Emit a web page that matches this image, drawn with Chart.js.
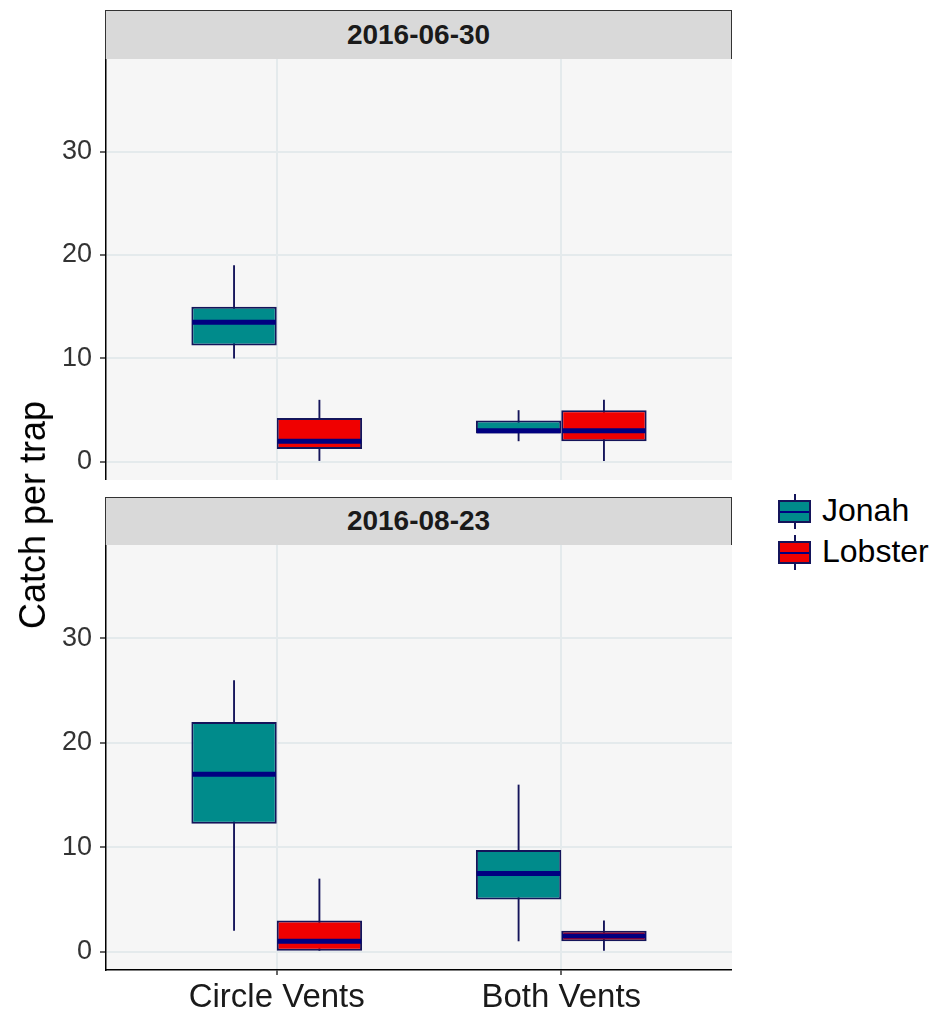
<!DOCTYPE html>
<html>
<head>
<meta charset="utf-8">
<script src="https://cdn.jsdelivr.net/npm/chart.js@4.4.1/dist/chart.umd.min.js"></script>
<style>
  body { margin: 0; background: #fff; font-family: "Liberation Sans", Arial, sans-serif; }
  #wrap { position: relative; width: 945px; height: 1015px; overflow: hidden; }
  canvas { position: absolute; }
  .strip { position: absolute; left: 105px; width: 627px; box-sizing: border-box; background: #d9d9d9;
           border: 1.5px solid #333; font-weight: bold; font-size: 28px; color: #1a1a1a; text-align: center; }
  #ytitle { position: absolute; left: 33px; top: 515px; transform: translate(-50%, -50%) rotate(-90deg);
            font-size: 36px; color: #000; white-space: nowrap; }
  .legend { position: absolute; left: 778px; font-size: 32px; color: #000; }
  .legend .item { position: relative; height: 41px; }
  .legend .key { position: absolute; left: 0; top: 6px; width: 33px; height: 23px; box-sizing: border-box; border: 2px solid #14145a; }
  .legend .key::before { content: ""; position: absolute; left: 13.5px; top: -8px; width: 2px; height: 35px; background: #14145a; z-index: -1; }
  .legend .key::after { content: ""; position: absolute; left: 0; right: 0; top: 8.5px; height: 2px; background: #000080; }
  .legend .txt { position: absolute; left: 44px; top: -2px; line-height: 36px; }
</style>
</head>
<body>
<div id="wrap">
  <div id="strip0" class="strip" style="top:10px;height:50px;line-height:47px;"></div>
  <canvas id="panel0" width="692" height="421" style="left:40px;top:59px;"></canvas>
  <div id="strip1" class="strip" style="top:497px;height:49px;line-height:46px;"></div>
  <canvas id="panel1" width="692" height="470" style="left:40px;top:545px;"></canvas>
  <div id="ytitle">Catch per trap</div>
  <div class="legend" id="legend" style="top:494px;"></div>
</div>
<script>
// facets, categories and tick labels
const facets = ['2016-06-30', '2016-08-23'];
const categories = ['Circle Vents', 'Both Vents'];
const seriesNames = ['Jonah', 'Lobster'];
const seriesFill = ['#008b8b', '#f00000'];
const yTicks = [0, 10, 20, 30];

// five-number summaries [min, q1, median, q3, max], one per category
const jonah0630 = [[10, 11.25, 13.5, 15, 19], [2, 2.75, 3, 4, 5]];
const lobster0630 = [[0, 1.25, 2, 4.25, 6], [0, 2, 3, 5, 6]];
const jonah0823 = [[2, 12.25, 17, 22, 26], [1, 5, 7.5, 9.75, 16]];
const lobster0823 = [[0, 0, 1, 3, 7], [0, 1, 1.5, 2, 3]];

const outline = '#14145a';
const medianColor = '#000080';
const gridColor = '#e4eaec';

// panel background
const panelBg = {
  id: 'panelBg',
  beforeDraw(chart) {
    const a = chart.chartArea, ctx = chart.ctx;
    ctx.save();
    ctx.fillStyle = '#f6f6f6';
    ctx.fillRect(a.left, a.top, a.right - a.left, a.bottom - a.top);
    ctx.restore();
  }
};

// median lines across each box
const medianPlugin = {
  id: 'medians',
  afterDatasetsDraw(chart) {
    const ctx = chart.ctx, y = chart.scales.y;
    chart.data.datasets.forEach((ds, di) => {
      if (!ds.medians) return;
      chart.getDatasetMeta(di).data.forEach((bar, i) => {
        const py = y.getPixelForValue(ds.medians[i]);
        ctx.save();
        ctx.strokeStyle = medianColor;
        ctx.lineWidth = 5;
        ctx.beginPath();
        ctx.moveTo(bar.x - bar.width / 2 + 1, py);
        ctx.lineTo(bar.x + bar.width / 2 - 1, py);
        ctx.stroke();
        ctx.restore();
      });
    });
  }
};

function makeDatasets(boxes) {
  const ds = [];
  boxes.forEach((b, s) => {
    ds.push({
      label: seriesNames[s],
      stack: seriesNames[s],
      order: 0,
      data: b.map((v, i) => ({ x: i + 1, y: [v[1], v[3]] })),
      medians: b.map(v => v[2]),
      backgroundColor: seriesFill[s],
      borderColor: outline,
      borderWidth: 2,
      borderSkipped: false,
      barPercentage: 1,
      categoryPercentage: 0.6
    });
  });
  boxes.forEach((b, s) => {
    ds.push({
      label: seriesNames[s] + ' whisker',
      stack: seriesNames[s],
      order: 1,
      data: b.map((v, i) => ({ x: i + 1, y: [v[0], v[4]] })),
      backgroundColor: outline,
      borderWidth: 0,
      barPercentage: 0.022,
      categoryPercentage: 0.6
    });
  });
  return ds;
}

function makePanel(id, boxes, showX) {
  return new Chart(document.getElementById(id), {
    type: 'bar',
    data: { datasets: makeDatasets(boxes) },
    plugins: [panelBg, medianPlugin],
    options: {
      responsive: false,
      animation: false,
      layout: { padding: 0 },
      plugins: { legend: { display: false }, tooltip: { enabled: false } },
      scales: {
        x: {
          type: 'linear',
          min: 0.4,
          max: 2.6,
          offset: false,
          afterBuildTicks: s => { s.ticks = categories.map((c, i) => ({ value: i + 1 })); },
          afterFit: s => { s.height = showX ? 45 : 0; },
          grid: { offset: false, color: gridColor, lineWidth: 2, drawTicks: showX, tickLength: 5, tickColor: '#333', tickWidth: 1.5 },
          border: { display: showX, color: '#000', width: 1.5 },
          ticks: {
            display: showX,
            padding: 3,
            color: '#1a1a1a',
            font: { family: 'Liberation Sans', size: 33 },
            callback: v => categories[v - 1]
          }
        },
        y: {
          min: -1.75,
          max: 38.95,
          stacked: false,
          afterBuildTicks: s => { s.ticks = yTicks.map(v => ({ value: v })); },
          afterFit: s => { s.width = 66; s.paddingTop = 0; s.paddingBottom = 0; },
          grid: { color: gridColor, lineWidth: 2, tickLength: 6, tickColor: '#333', tickWidth: 1.5 },
          border: { color: '#000', width: 1.5 },
          ticks: {
            padding: 8,
            color: '#333',
            font: { family: 'Liberation Sans', size: 27 }
          }
        }
      }
    }
  });
}

document.getElementById('strip0').textContent = facets[0];
document.getElementById('strip1').textContent = facets[1];

makePanel('panel0', [jonah0630, lobster0630], false);
makePanel('panel1', [jonah0823, lobster0823], true);

// legend
const legend = document.getElementById('legend');
seriesNames.forEach((name, s) => {
  const item = document.createElement('div');
  item.className = 'item';
  const key = document.createElement('div');
  key.className = 'key';
  key.style.background = seriesFill[s];
  const txt = document.createElement('div');
  txt.className = 'txt';
  txt.textContent = name;
  item.appendChild(key);
  item.appendChild(txt);
  legend.appendChild(item);
});
</script>
</body>
</html>
